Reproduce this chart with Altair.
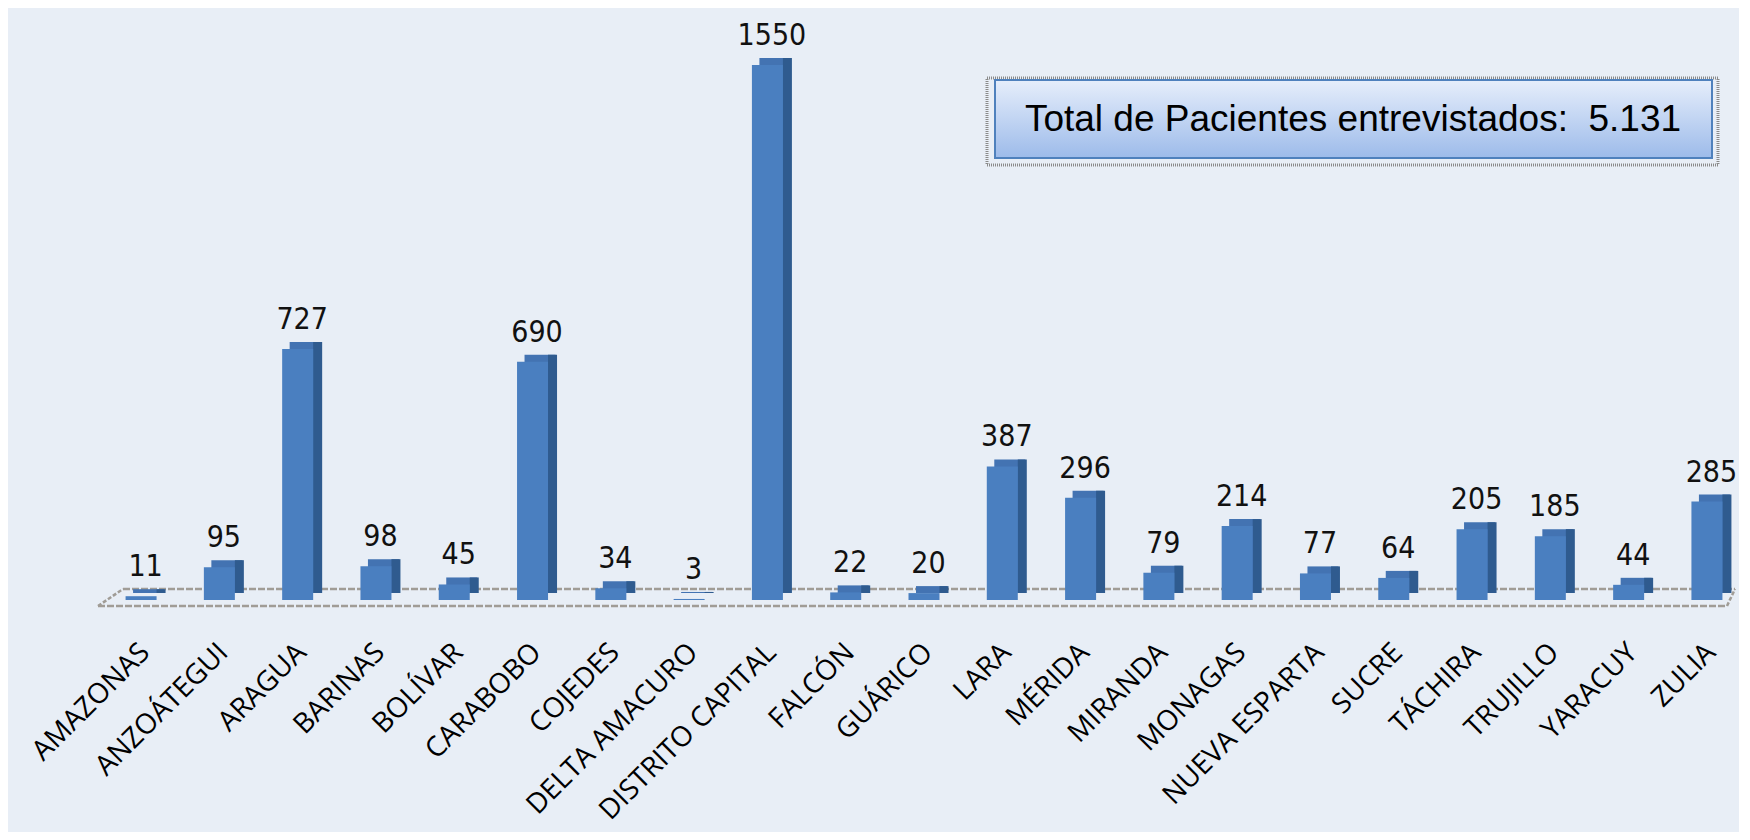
import altair as alt
import pandas as pd

states = ["AMAZONAS", "ANZOÁTEGUI", "ARAGUA", "BARINAS", "BOLÍVAR", "CARABOBO",
          "COJEDES", "DELTA AMACURO", "DISTRITO CAPITAL", "FALCÓN", "GUÁRICO",
          "LARA", "MÉRIDA", "MIRANDA", "MONAGAS", "NUEVA ESPARTA", "SUCRE",
          "TÁCHIRA", "TRUJILLO", "YARACUY", "ZULIA"]
values = [11, 95, 727, 98, 45, 690, 34, 3, 1550, 22, 20, 387, 296, 79, 214,
          77, 64, 205, 185, 44, 285]
total_label = ["Total de Pacientes entrevistados:\u00a0 5.131"]

df = pd.DataFrame({"estado": states, "n": values})

W, H = 1605, 580

x_enc = alt.X("estado:N", sort=states, title=None,
              scale=alt.Scale(paddingInner=0.5, paddingOuter=0),
              axis=alt.Axis(labelAngle=-45, labelAlign="right", labelBaseline="middle",
                            labelPadding=48, labelFont="Open Sans", labelFontSize=28,
                            labelColor="#000000", domain=False, ticks=False, grid=False,
                            labelOverlap=False, labelLimit=400))
y_enc = alt.Y("n:Q", scale=alt.Scale(domain=[0, 1680]), axis=None)

base = alt.Chart(df)

top_face = base.mark_bar(size=31, xOffset=3, yOffset=-7, color="#4373B2").encode(x=x_enc, y=y_enc)
side = base.mark_bar(size=9, xOffset=15.5, yOffset=-7, color="#2F5B8F").encode(x=x_enc, y=y_enc)
front = base.mark_bar(size=31, xOffset=-4.5, color="#4A7FC0").encode(x=x_enc, y=y_enc)
labels = base.mark_text(font="DejaVu Sans Condensed, Liberation Sans Narrow, sans-serif",
                        fontSize=30, baseline="alphabetic", dy=-20, color="#111111").encode(
    x=x_enc, y=y_enc, text="n:Q")

one = pd.DataFrame({"t": total_label})
floor_col = "#A09C96"
floor = alt.layer(
    alt.Chart(one).mark_rule(color=floor_col, strokeDash=[7, 2], strokeWidth=2.5).encode(
        x=alt.value(-3), x2=alt.value(W + 4), y=alt.value(H - 11)),
    alt.Chart(one).mark_rule(color=floor_col, strokeDash=[7, 2], strokeWidth=2.5).encode(
        x=alt.value(-28), x2=alt.value(W - 4), y=alt.value(H + 6)),
    alt.Chart(one).mark_rule(color=floor_col, strokeDash=[4, 2], strokeWidth=2.5).encode(
        x=alt.value(-28), x2=alt.value(-3), y=alt.value(H + 6), y2=alt.value(H - 11)),
    alt.Chart(one).mark_rule(color=floor_col, strokeDash=[4, 2], strokeWidth=2.5).encode(
        x=alt.value(W - 4), x2=alt.value(W + 4), y=alt.value(H + 6), y2=alt.value(H - 11)),
)

shadow = alt.Chart(one).mark_rect(fill=None, stroke="#8A8A8A", strokeDash=[1, 1], strokeWidth=3).encode(
    x=alt.value(861), x2=alt.value(1592), y=alt.value(58), y2=alt.value(145))
box = alt.Chart(one).mark_rect(
    fill=alt.Gradient(gradient="linear", x1=0, x2=0, y1=0, y2=1,
                      stops=[alt.GradientStop(color="#E6EEFB", offset=0),
                             alt.GradientStop(color="#9DBBEA", offset=1)]),
    stroke="#4F81BD", strokeWidth=2).encode(
    x=alt.value(869), x2=alt.value(1586), y=alt.value(60), y2=alt.value(138))
box_text = alt.Chart(one).mark_text(font="Liberation Sans Narrow, Arial Narrow, sans-serif",
                                    fontSize=37, baseline="middle", align="center",
                                    color="#000000").encode(
    x=alt.value(1227), y=alt.value(100), text="t:N")

chart = alt.layer(floor, top_face, side, front, labels, shadow, box, box_text).properties(
    width=W, height=H,
    background="#E8EEF6",
    padding={"left": 118, "top": 12, "right": 8, "bottom": 232},
    autosize=alt.AutoSizeParams(type="none"),
).configure_view(stroke=None)

chart.save("out.html", embed_options={"renderer": "svg", "actions": False})
